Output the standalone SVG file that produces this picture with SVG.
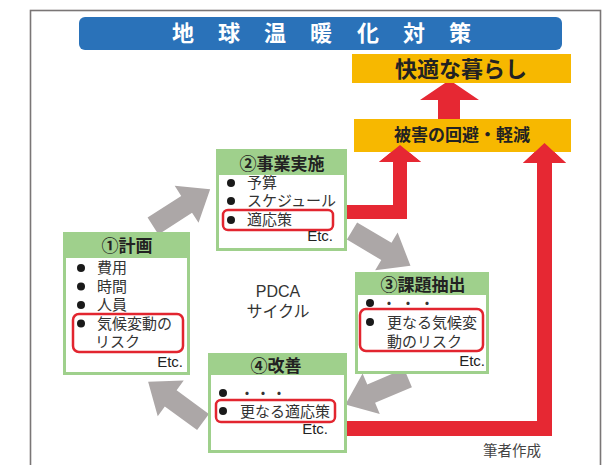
<svg xmlns="http://www.w3.org/2000/svg" width="614" height="465" viewBox="0 0 614 465">
<style>
text{font-family:"Liberation Sans","Noto Sans CJK JP",sans-serif}
.hd{font-size:17px;font-weight:bold;fill:#222;text-anchor:middle}
.it{font-size:15px;fill:#333}
.etc{font-size:15px;fill:#222;text-anchor:end}
.box{fill:#9fd08c}
.in{fill:#fff}
.hl{fill:none;stroke:#e2252f;stroke-width:2.5}
.gr{fill:#aca7a7}
.rd{fill:#e62833}
.bl{fill:#1a1a1a}
</style>
<defs>
<path id="ga" d="M0,-10 L40,-10 L40,-22 L68,0 L40,22 L40,10 L0,10 Z"/>
</defs>
<rect x="30.5" y="10.5" width="570" height="470" fill="#fff" stroke="#7a7676" stroke-width="1.6"/>
<g id="title">
<rect x="79" y="17" width="483" height="33" rx="6" fill="#2a72b9"/>
<text x="172 218 264 310 357 403 449" y="41" style="font-size:22px;font-weight:bold;fill:#fff">地球温暖化対策</text>
</g>
<g id="connectors">
<path class="rd" d="M438,119 L438,100 L420,100 L449.5,80 L479,100 L460,100 L460,119 Z"/>
<path class="rd" d="M347,205 L393,205 L393,162 L379,162 L400,145 L421,162 L407,162 L407,219 L347,219 Z"/>
<path class="rd" d="M347,421 L537,421 L537,163 L523,163 L544.5,143 L566,163 L552,163 L552,436 L347,436 Z"/>
<use href="#ga" class="gr" transform="translate(153,226) rotate(-32.8)"/>
<use href="#ga" class="gr" transform="translate(352,231) rotate(30.7)"/>
<use href="#ga" class="gr" transform="translate(408,378) rotate(157)"/>
<use href="#ga" class="gr" transform="translate(203,422) rotate(216.2)"/>
</g>
<g id="goal">
<rect x="352" y="54" width="219" height="29" fill="#f7b800"/>
<text x="461" y="77" style="font-size:22px;font-weight:bold;fill:#222;text-anchor:middle">快適な暮らし</text>
</g>
<g id="mitigation">
<rect x="354" y="119" width="217" height="33" fill="#f7b800"/>
<text x="462" y="141" style="font-size:17px;font-weight:bold;fill:#222;text-anchor:middle">被害の回避・軽減</text>
</g>
<path class="rd" d="M393,162 L379,162 L400,145 L421,162 L407,162 Z"/>
<path class="rd" d="M537,163 L523,163 L544.5,143 L566,163 L552,163 Z"/>
<g id="plan">
<rect class="box" x="63" y="232" width="127" height="143"/>
<rect class="in" x="66" y="258" width="121" height="114"/>
<text class="hd" x="127" y="252">①計画</text>
<circle class="bl" cx="81" cy="268" r="4"/>
<circle class="bl" cx="81" cy="286.5" r="4"/>
<circle class="bl" cx="81" cy="305" r="4"/>
<circle class="bl" cx="81" cy="323.5" r="4"/>
<text class="it" x="97" y="273">費用</text>
<text class="it" x="97" y="291.5">時間</text>
<text class="it" x="97" y="310">人員</text>
<text class="it" x="97" y="328.5">気候変動の</text>
<text class="it" x="95" y="347">リスク</text>
<rect class="hl" x="73" y="314" width="110" height="38" rx="6"/>
<text class="etc" x="183" y="367">Etc.</text>
</g>
<g id="do">
<rect class="box" x="216" y="149" width="131" height="102"/>
<rect class="in" x="219" y="175" width="125" height="73"/>
<text class="hd" x="282" y="170">②事業実施</text>
<circle class="bl" cx="231" cy="183" r="4"/>
<circle class="bl" cx="231" cy="201" r="4"/>
<circle class="bl" cx="231" cy="220" r="4"/>
<text class="it" x="247" y="188">予算</text>
<text class="it" x="247" y="206">スケジュール</text>
<text class="it" x="247" y="225">適応策</text>
<rect class="hl" x="223" y="210" width="110" height="20" rx="5"/>
<text class="etc" x="333" y="241">Etc.</text>
</g>
<g id="check">
<rect class="box" x="355" y="272" width="134" height="102"/>
<rect class="in" x="358" y="295" width="128" height="76"/>
<text class="hd" x="423" y="291">③課題抽出</text>
<circle class="bl" cx="370" cy="303" r="4"/>
<circle class="bl" cx="370" cy="322" r="4"/>
<text class="it" x="381.5" y="309" style="letter-spacing:4px">・・・</text>
<text class="it" x="387" y="328">更なる気候変</text>
<text class="it" x="387" y="347">動のリスク</text>
<rect class="hl" x="360" y="309" width="123" height="42" rx="6"/>
<text class="etc" x="485" y="366">Etc.</text>
</g>
<g id="act">
<rect class="box" x="208" y="353" width="139" height="100"/>
<rect class="in" x="211" y="375" width="133" height="75"/>
<text class="hd" x="276" y="372">④改善</text>
<circle class="bl" cx="223" cy="393" r="4"/>
<circle class="bl" cx="223" cy="411" r="4"/>
<text class="it" x="239.5" y="399" style="letter-spacing:1px">・・・</text>
<text class="it" x="240" y="417">更なる適応策</text>
<rect class="hl" x="216" y="400" width="119" height="22" rx="5"/>
<text class="etc" x="328" y="434">Etc.</text>
</g>
<g id="cycle">
<text x="278" y="297" style="font-size:16px;fill:#333;text-anchor:middle">PDCA</text>
<text x="278" y="317" style="font-size:16px;fill:#333;text-anchor:middle">サイクル</text>
</g>
<text x="483" y="456" style="font-size:14.5px;fill:#444">筆者作成</text>
</svg>
